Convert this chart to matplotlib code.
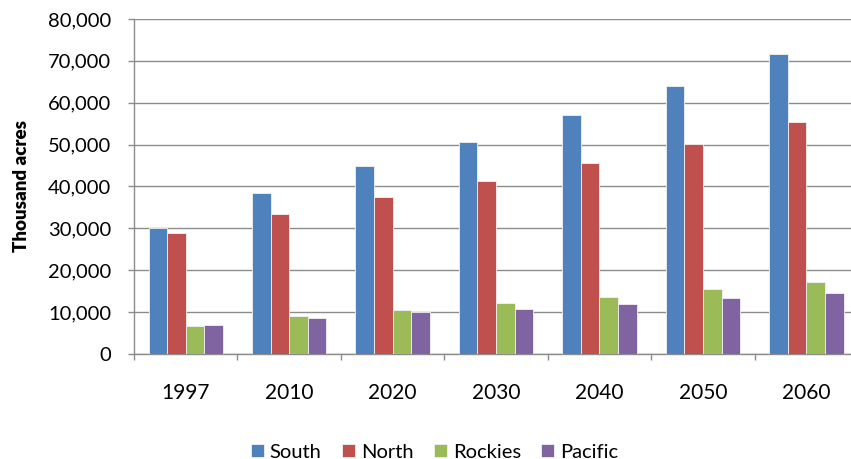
import matplotlib.pyplot as plt
import numpy as np
from matplotlib.ticker import FuncFormatter

plt.rcParams['font.family'] = ['Lato', 'DejaVu Sans']
plt.rcParams['font.size'] = 14

years = ['1997', '2010', '2020', '2030', '2040', '2050', '2060']
regions = ['South', 'North', 'Rockies', 'Pacific']
south = [30000, 38400, 44900, 50700, 57100, 64000, 71600]
north = [29000, 33500, 37500, 41300, 45500, 50100, 55500]
rockies = [6800, 9100, 10600, 12100, 13600, 15400, 17200]
pacific = [7000, 8700, 10000, 10800, 12000, 13300, 14600]
colors = ['#4F81BD', '#C0504D', '#9BBB59', '#8064A2']

fig = plt.figure(figsize=(8.51, 4.59), dpi=100)
# plot area runs a little past the right edge of the figure
ax = fig.add_axes([0.1575, 0.2288, 0.8508, 0.7298])

x = np.arange(len(years))
width = 0.18
series = [south, north, rockies, pacific]
for i, (name, vals, c) in enumerate(zip(regions, series, colors)):
    ax.bar(x + (i - 1.5) * width, vals, width, color=c, label=name,
           edgecolor='#f2f2f2', linewidth=0.6, zorder=3)

ax.set_xlim(-0.5, len(years) - 0.5)
ax.set_ylim(0, 80000)
ax.set_yticks(np.arange(0, 80001, 10000))
ax.yaxis.set_major_formatter(FuncFormatter(lambda v, p: '{:,.0f}'.format(v)))
ax.set_xticks(x)
ax.set_xticklabels(years, fontsize=15)
ax.set_xticks(np.arange(-0.5, len(years), 1), minor=True)
ax.tick_params(axis='x', which='major', length=0, pad=21)
ax.tick_params(axis='x', which='minor', length=4.3, color='#8c8c8c', width=1)
ax.tick_params(axis='y', length=4.3, color='#8c8c8c', width=1, pad=12,
               labelsize=14.5)

ax.grid(axis='y', color='#8c8c8c', linewidth=1, zorder=0)
for s in ['top', 'right']:
    ax.spines[s].set_visible(False)
for s in ['left', 'bottom']:
    ax.spines[s].set_color('#8c8c8c')
    ax.spines[s].set_linewidth(1)

ax.set_ylabel('Thousand acres', fontweight='heavy', fontsize=13.5, labelpad=13)

fig.legend(loc='center', bbox_to_anchor=(0.5106, 0.015), ncol=4, frameon=False,
           fontsize=14.5, handlelength=0.65, handleheight=0.65, handletextpad=0.3,
           columnspacing=1.0)

fig.savefig('out.png', dpi=100)
